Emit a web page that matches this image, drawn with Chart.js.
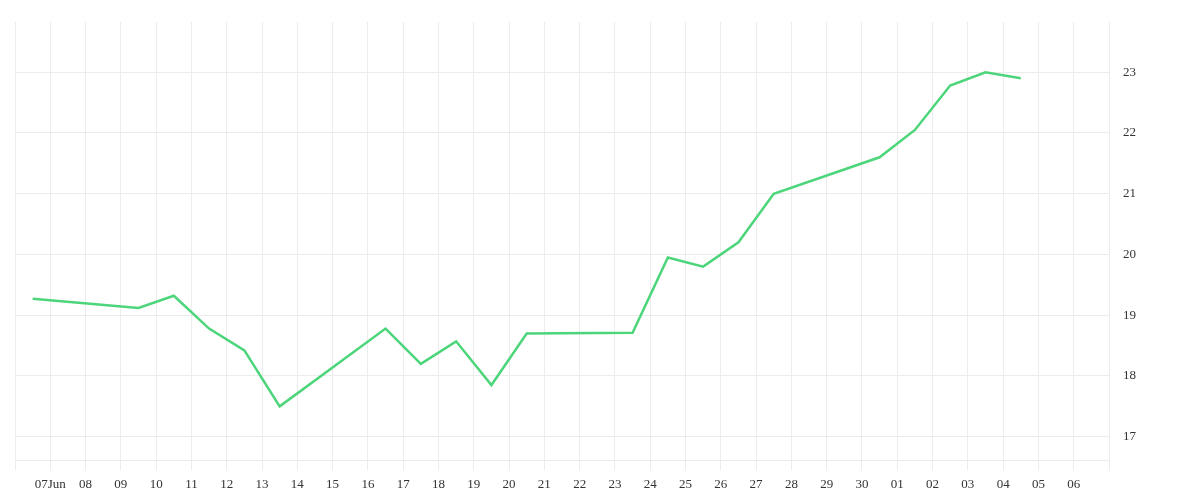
<!DOCTYPE html>
<html><head><meta charset="utf-8">
<script src="https://cdn.jsdelivr.net/npm/chart.js@4/dist/chart.umd.min.js"></script>
<style>body{margin:0;background:#fff}</style></head>
<body><canvas id="c" width="1200" height="500"></canvas>
<script>
// day offsets from 07 Jun (0 = 07 Jun)
const dayOffsets = [-0.5,2.5,3.5,4.5,5.5,6.5,9.5,10.5,11.5,12.5,13.5,16.5,17.5,18.5,19.5,20.5,23.5,24.5,25.5,26.5,27.5];
const values = [19.27,19.12,19.32,18.78,18.42,17.5,18.78,18.2,18.57,17.85,18.7,18.71,19.95,19.8,20.2,21.0,21.6,22.05,22.78,23.0,22.9];
const xTickLabels = ['07Jun','08','09','10','11','12','13','14','15','16','17','18','19','20','21','22','23','24','25','26','27','28','29','30','01','02','03','04','05','06'];
const yTicks = [17,18,19,20,21,22,23];

const font = {family:'Liberation Serif', size:13};
new Chart(document.getElementById('c'), {
  type:'line',
  data:{datasets:[{data:dayOffsets.map((d,i)=>({x:d,y:values[i]})),borderColor:'#4cd57a',borderWidth:2.5,pointRadius:0,tension:0,fill:false}]},
  options:{
    responsive:false, animation:false,
    layout:{padding:{left:15,top:2,right:50,bottom:2}},
    plugins:{legend:{display:false},tooltip:{enabled:false}},
    scales:{
      x:{type:'linear',min:-1,max:30,
        afterBuildTicks:a=>{a.ticks=[];for(let i=-1;i<=30;i++)a.ticks.push({value:i});},
        ticks:{autoSkip:false,maxRotation:0,color:'#333',font,padding:6,
          callback:v=>xTickLabels[v]!==undefined?xTickLabels[v]:''},
        grid:{color:'#ececec',tickLength:10,drawTicks:true},
        border:{color:'#ececec'}},
      y:{position:'right',min:16.61,max:23.83,
        afterBuildTicks:a=>{a.ticks=yTicks.map(v=>({value:v}));},
        ticks:{color:'#333',font,padding:14},
        grid:{color:'#ececec',drawTicks:false},
        border:{display:false}}
    }
  }
});
</script></body></html>
